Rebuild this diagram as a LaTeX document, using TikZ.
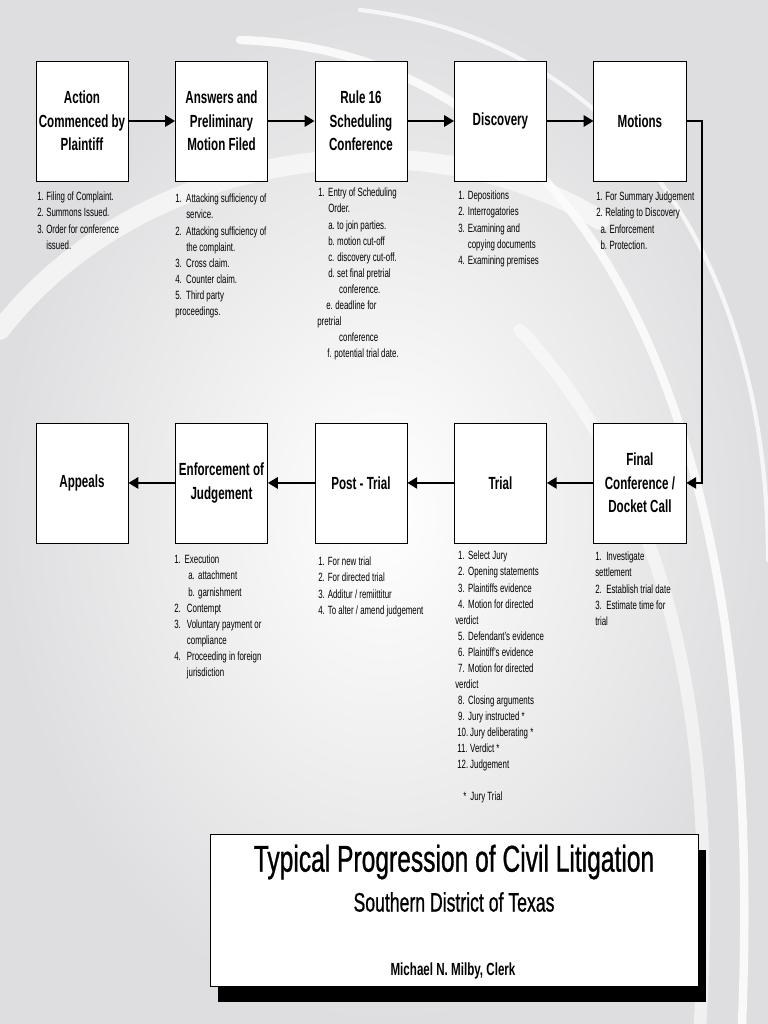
\documentclass[tikz,border=0pt]{standalone}
\usepackage{fontspec}
\setmainfont{Liberation Sans}[FakeStretch=0.66]
\newfontfamily\heavyfont{Liberation Sans}[FakeStretch=0.66, FakeBold=0.7]
\usepackage{tikz}
\usetikzlibrary{arrows.meta, positioning, shadows}
\definecolor{bgrim}{RGB}{222,222,224}
\definecolor{bgsoft}{RGB}{252,252,252}
\newcommand{\nb}[2][7pt]{\makebox[#1][l]{#2}}
\tikzset{
  stage/.style={rectangle, draw=black, fill=white,
    minimum width=2.3cm, minimum height=3cm, align=center,
    inner sep=1pt, line width=0.6pt,
    font=\fontsize{12.5}{16.7}\selectfont\bfseries},
  notes/.style={anchor=north west, align=left, inner sep=0pt,
    font=\fontsize{8.5}{11.4}\selectfont},
  banner/.style={rectangle, draw=black, fill=white,
    minimum width=12.2cm, minimum height=3.8cm, line width=0.6pt,
    drop shadow={shadow xshift=0.2cm, shadow yshift=-0.4cm, fill=black, opacity=1}},
  flow/.style={-{Triangle[length=7pt,width=8pt]}, line width=1.5pt, color=black},
  swoosh/.style={color=bgsoft, line cap=round}
}

\begin{document}
\begin{tikzpicture}[x=0.025cm, y=-0.025cm]
  \useasboundingbox (0,0) rectangle (768,1024);
  % Background
  \shade[inner color=white, outer color=bgrim] (0,0) rectangle (768,1024);
  \draw[swoosh, line width=14pt, opacity=0.7] (0,330) .. controls (140,150) and (420,110) .. (600,220);
  \draw[swoosh, line width=6pt, opacity=0.9] (240,40) .. controls (540,50) and (770,330) .. (742,1024);
  \draw[swoosh, line width=3pt, opacity=0.8] (360,10) .. controls (620,40) and (768,260) .. (768,560);
  \draw[swoosh, line width=9pt, opacity=0.6] (520,330) .. controls (660,480) and (720,700) .. (700,1024);

  % Stages, top row
  \node[stage] (action) at (82,121) {Action\\Commenced by\\Plaintiff};
  \node[stage, right=1.165cm of action] (answers) {Answers and\\Preliminary\\Motion Filed};
  \node[stage, right=1.165cm of answers] (rule) {Rule 16\\Scheduling\\Conference};
  \node[stage, right=1.165cm of rule] (discovery) {Discovery};
  \node[stage, right=1.165cm of discovery] (motions) {Motions};

  % Stages, bottom row
  \node[stage, below=6.025cm of motions] (docket) {Final\\Conference /\\Docket Call};
  \node[stage, left=1.165cm of docket] (trial) {Trial};
  \node[stage, left=1.165cm of trial] (posttrial) {Post - Trial};
  \node[stage, left=1.165cm of posttrial] (enforce) {Enforcement of\\Judgement};
  \node[stage, left=1.165cm of enforce] (appeals) {Appeals};

  % Flow arrows
  \draw[flow] (action) -- (answers);
  \draw[flow] (answers) -- (rule);
  \draw[flow] (rule) -- (discovery);
  \draw[flow] (discovery) -- (motions);
  \draw[flow] (motions.east) -- ++(0.4cm,0) |- (docket.east);
  \draw[flow] (docket) -- (trial);
  \draw[flow] (trial) -- (posttrial);
  \draw[flow] (posttrial) -- (enforce);
  \draw[flow] (enforce) -- (appeals);

  % Notes under the stages
  \node[notes] (actionnotes) at (37,192) {\nb[6.4pt]{1.}Filing of Complaint.\\
    \nb[6.4pt]{2.}Summons Issued.\\
    \nb[6.4pt]{3.}Order for conference\\
    \hspace*{6.4pt}issued.};
  \node[notes] (answersnotes) at (175,194) {\nb[7.8pt]{1.}Attacking sufficiency of\\
    \hspace*{7.8pt}service.\\
    \nb[7.8pt]{2.}Attacking sufficiency of\\
    \hspace*{7.8pt}the complaint.\\
    \nb[7.8pt]{3.}Cross claim.\\
    \nb[7.8pt]{4.}Counter claim.\\
    \nb[7.8pt]{5.}Third party\\
    proceedings.};
  \node[notes] (rulenotes) at (317,188) {\hspace*{0.7pt}\nb[7.1pt]{1.}Entry of Scheduling\\
    \hspace*{7.8pt}Order.\\
    \hspace*{7.8pt}\nb[6.4pt]{a.}to join parties.\\
    \hspace*{7.8pt}\nb[6.4pt]{b.}motion cut-off\\
    \hspace*{7.8pt}\nb[6.4pt]{c.}discovery cut-off.\\
    \hspace*{7.8pt}\nb[6.4pt]{d.}set final pretrial\\
    \hspace*{15.6pt}conference.\\
    \hspace*{6.4pt}\nb[6.4pt]{e.}deadline for\\
    pretrial\\
    \hspace*{15.6pt}conference\\
    \hspace*{7.1pt}\nb[5pt]{f.}potential trial date.};
  \node[notes] (discoverynotes) at (458,191) {\nb[6.8pt]{1.}Depositions\\
    \nb[6.8pt]{2.}Interrogatories\\
    \nb[6.8pt]{3.}Examining and\\
    \hspace*{6.8pt}copying documents\\
    \nb[6.8pt]{4.}Examining premises};
  \node[notes] (motionsnotes) at (596,192) {\nb[6.4pt]{1.}For Summary Judgement\\
    \nb[6.4pt]{2.}Relating to Discovery\\
    \hspace*{3pt}\nb[6.4pt]{a.}Enforcement\\
    \hspace*{3pt}\nb[6.4pt]{b.}Protection.};
  \node[notes] (docketnotes) at (595,552) {\nb[7.8pt]{1.}Investigate\\
    settlement\\
    \nb[7.8pt]{2.}Establish trial date\\
    \nb[7.8pt]{3.}Estimate time for\\
    trial};
  \node[notes] (trialnotes) at (455,551) {\hspace*{2.1pt}\nb[7.1pt]{1.}Select Jury\\
    \hspace*{2.1pt}\nb[7.1pt]{2.}Opening statements\\
    \hspace*{2.1pt}\nb[7.1pt]{3.}Plaintiffs evidence\\
    \hspace*{2.1pt}\nb[7.1pt]{4.}Motion for directed\\
    verdict\\
    \hspace*{2.1pt}\nb[7.1pt]{5.}Defendant's evidence\\
    \hspace*{2.1pt}\nb[7.1pt]{6.}Plaintiff's evidence\\
    \hspace*{2.1pt}\nb[7.1pt]{7.}Motion for directed\\
    verdict\\
    \hspace*{2.1pt}\nb[7.1pt]{8.}Closing arguments\\
    \hspace*{2.1pt}\nb[7.1pt]{9.}Jury instructed *\\
    \hspace*{1.4pt}\nb[9.2pt]{10.}Jury deliberating *\\
    \hspace*{1.4pt}\nb[9.2pt]{11.}Verdict *\\
    \hspace*{1.4pt}\nb[9.2pt]{12.}Judgement\\[11.4pt]
    \hspace*{5.7pt}\nb[5pt]{*}Jury Trial};
  \node[notes] (posttrialnotes) at (318,557) {\nb[6.8pt]{1.}For new trial\\
    \nb[6.8pt]{2.}For directed trial\\
    \nb[6.8pt]{3.}Additur / remiittitur\\
    \nb[6.8pt]{4.}To alter / amend judgement};
  \node[notes] (enforcenotes) at (174,555) {\nb[7.4pt]{1.}Execution\\
    \hspace*{10pt}\nb[7pt]{a.}attachment\\
    \hspace*{10pt}\nb[7pt]{b.}garnishment\\
    \nb[9pt]{2.}Contempt\\
    \nb[9pt]{3.}Voluntary payment or\\
    \hspace*{9pt}compliance\\
    \nb[9pt]{4.}Proceeding in foreign\\
    \hspace*{9pt}jurisdiction};

  % Title banner
  \node[banner] (banner) at (454,910) {};
  \node[font=\heavyfont\fontsize{26.5}{30}\selectfont] (maintitle) at (454,862) {Typical Progression of Civil Litigation};
  \node[font=\heavyfont\fontsize{19}{22}\selectfont] (subtitle) at (454,902) {Southern District of Texas};
  \node[font=\fontsize{12.5}{14}\selectfont\bfseries] (clerk) at (453,971) {Michael N. Milby, Clerk};
\end{tikzpicture}
\end{document}
